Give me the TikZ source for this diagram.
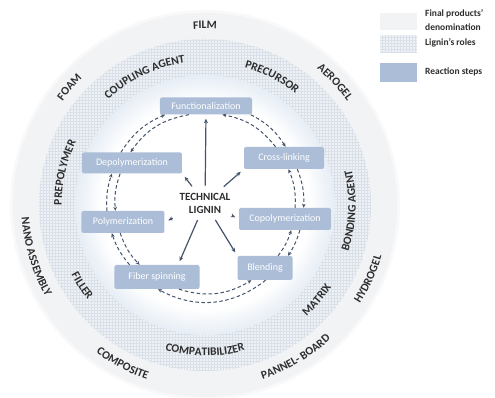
\documentclass[tikz,border=0pt]{standalone}
\usepackage{fontspec}
\setmainfont{Carlito}
\usetikzlibrary{arrows.meta,decorations.text}

\definecolor{outerring}{HTML}{F2F3F5}
\definecolor{outersoft}{HTML}{F9F9FA}
\definecolor{midring}{HTML}{EEF1F5}
\definecolor{gridline}{HTML}{D9E0E8}
\definecolor{stepfill}{HTML}{ABBDD7}
\definecolor{inkdark}{HTML}{2E2E2E}
\definecolor{arrowink}{HTML}{44546C}
\definecolor{glow}{HTML}{E6EDF5}

\pgfdeclareradialshading{innerglow}{\pgfpoint{0bp}{0bp}}{color(0bp)=(white); color(20bp)=(white); color(25bp)=(glow); color(50bp)=(glow)}

\newcommand\ringfont{\fontsize{11.5}{11.5}\selectfont\bfseries}
% text on the upper part of a ring: read clockwise, letter tops outward
\newcommand\ringtop[3]{\path[decorate,decoration={text along path,text align=center,
  text={|\color{inkdark}\ringfont|#3}}] ({#2+60}:{#1-3.7}) arc[start angle={#2+60},end angle={#2-60},radius={#1-3.7}];}
% text on the lower part of a ring: read anticlockwise, letter tops inward
\newcommand\ringbot[3]{\path[decorate,decoration={text along path,text align=center,
  text={|\color{inkdark}\ringfont|#3}}] ({#2-60}:{#1+3.7}) arc[start angle={#2-60},end angle={#2+60},radius={#1+3.7}];}

\tikzset{
  stepbox/.style={fill=stepfill, rounded corners=2pt, text=white, inner sep=0pt,
    font=\fontsize{10}{10}\selectfont},
  spoke/.style={draw=arrowink, line width=1.2pt, -{Stealth[length=4.5pt,width=4pt]},
    shorten <=3pt, shorten >=4pt},
  loopline/.style={draw=arrowink, line width=1pt, dash pattern=on 3.5pt off 2.5pt,
    -{Stealth[length=4pt,width=3.6pt]}},
  keybox/.style={minimum width=37pt, inner sep=0pt},
  keytext/.style={anchor=west, inner sep=0pt, text=inkdark, align=left,
    font=\fontsize{9.5}{14}\selectfont\bfseries}
}

\begin{document}
\begin{tikzpicture}[x=1pt,y=1pt]
\useasboundingbox (-205,-193) rectangle (290,205);

% outer ring: final products
\fill[outersoft] (0,0) circle (195);
\fill[outerring] (0,0) circle (192);

% middle ring: lignin's roles, gridded
\begin{scope}
  \clip (0,0) circle (166);
  \fill[midring] (0,0) circle (166);
  \draw[gridline, line width=0.35pt, step=3] (-168,-168) grid (168,168);
\end{scope}

% inner disk: reaction steps
\shade[shading=innerglow] (0,0) circle (130);

% outer ring labels
\ringtop{180}{90}{FILM}
\ringtop{180}{43.4}{AEROGEL}
\ringtop{180}{139}{FOAM}
\ringbot{180}{197}{NANO ASSEMBLY}
\ringbot{180}{242.6}{COMPOSITE}
\ringbot{180}{300.7}{PANNEL- BOARD}
\ringbot{180}{335.6}{HYDROGEL}

% middle ring labels
\ringtop{147}{115.2}{COUPLING AGENT}
\ringtop{147}{62.4}{PRECURSOR}
\ringtop{147}{167}{PREPOLYMER}
\ringbot{147}{213.3}{FILLER}
\ringbot{147}{270}{COMPATIBILIZER}
\ringbot{147}{319.7}{MATRIX}
\ringbot{147}{357.7}{BONDING AGENT}

% reaction steps
\node[stepbox, minimum width=92pt, minimum height=17pt] (fun) at (1,99) {Functionalization};
\node[stepbox, minimum width=80pt, minimum height=22pt] (cross) at (79,47) {Cross-linking};
\node[stepbox, minimum width=92pt, minimum height=22pt] (copo) at (80,-14) {Copolymerization};
\node[stepbox, minimum width=55pt, minimum height=24pt] (blend) at (60,-63) {Blending};
\node[stepbox, minimum width=85pt, minimum height=24pt] (fiber) at (-48,-72) {Fiber spinning};
\node[stepbox, minimum width=83pt, minimum height=22pt] (poly) at (-82,-17) {Polymerization};
\node[stepbox, minimum width=100pt, minimum height=21pt] (depo) at (-73,42) {Depolymerization};

% central source
\node[align=center, inner sep=4pt, text=inkdark, font=\fontsize{11}{13}\selectfont\bfseries]
  (lig) at (0,2) {TECHNICAL\\LIGNIN};

% spokes from the lignin to each step
\draw[spoke] (lig) -- (fun.south);
\draw[spoke] (lig) -- (cross.south west);
\draw[spoke] (lig) -- (copo.west);
\draw[spoke] (lig) -- (blend.north west);
\draw[spoke] (lig) -- (fiber.30);
\draw[spoke] (lig) -- (poly.east);
\draw[spoke] (lig) -- (depo.south east);

% the two-way cycle between neighbouring steps
\draw[loopline] (fun.-11.7) to[bend left=15] (cross.82.7);
\draw[loopline] (cross.127.7) to[bend right=20.5] (fun.-28.9);
\draw[loopline] (cross.-40.4) to[bend left=11.6] (copo.31.6);
\draw[loopline] (copo.48) to[bend right=12.7] (cross.-68.6);
\draw[loopline] (copo.-37.8) to[bend left=8.4] (blend.28.2);
\draw[loopline] (blend.43.4) to[bend right=9.3] (copo.-61.8);
\draw[loopline] (blend.-87) to[bend left=33.5] (fiber.-85.2);
\draw[loopline] (fiber.-29.2) to[bend right=24.2] (blend.-138.2);
\draw[loopline] (fiber.156.7) to[bend left=10.7] (poly.-135.8);
\draw[loopline] (poly.-104.8) to[bend right=12] (fiber.145.1);
\draw[loopline] (poly.145) to[bend left=11.1] (depo.-152.9);
\draw[loopline] (depo.-138.8) to[bend right=12.1] (poly.124.6);
\draw[loopline] (depo.136.3) to[bend left=16.8] (fun.-168.8);
\draw[loopline] (fun.-153.9) to[bend right=22.7] (depo.98.1);

% key
\node[keybox, minimum height=17pt, fill=outerring] (k1) at (193.5,183.5) {};
\node[keybox, minimum height=18pt, fill=midring] (k2) at (193.5,161) {};
\begin{scope}
  \clip (k2.south west) rectangle (k2.north east);
  \draw[gridline, line width=0.35pt, step=3] (k2.south west) grid (k2.north east);
\end{scope}
\node[keybox, minimum height=19pt, fill=stepfill] (k3) at (193.5,132.5) {};
\node[keytext] (t1) at (220,185) {Final products'\\denomination};
\node[keytext] (t2) at (220,162) {Lignin's roles};
\node[keytext] (t3) at (220,133) {Reaction steps};
\end{tikzpicture}
\end{document}
